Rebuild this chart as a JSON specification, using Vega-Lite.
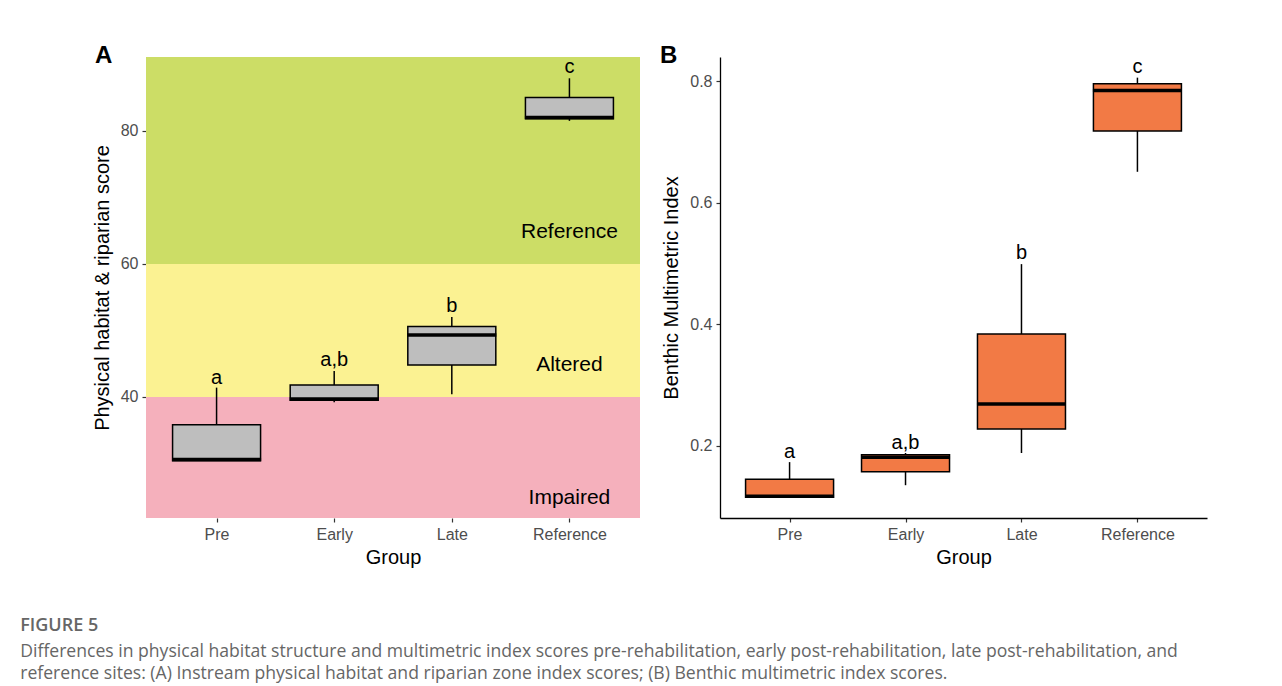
{
  "$schema": "https://vega.github.io/schema/vega-lite/v6.json",
  "background": "white",
  "padding": {"left": 20, "top": 43, "right": 5, "bottom": 5},
  "spacing": 20,
  "datasets": {
    "zones": [
      {"zone": "Impaired", "lo": 21.8, "hi": 40, "labelY": 24.8},
      {"zone": "Altered", "lo": 40, "hi": 60, "labelY": 44.8},
      {"zone": "Reference", "lo": 60, "hi": 91.1, "labelY": 64.8}
    ],
    "boxA": [
      {"group": "Pre", "lower": 30.4, "q1": 30.4, "median": 30.6, "q3": 35.8, "upper": 41.4, "letter": "a", "letterY": 42.9},
      {"group": "Early", "lower": 39.2, "q1": 39.5, "median": 39.7, "q3": 41.8, "upper": 43.9, "letter": "a,b", "letterY": 45.6},
      {"group": "Late", "lower": 40.4, "q1": 44.8, "median": 49.3, "q3": 50.6, "upper": 52.0, "letter": "b", "letterY": 53.6},
      {"group": "Reference", "lower": 81.5, "q1": 81.8, "median": 82.0, "q3": 85.0, "upper": 87.9, "letter": "c", "letterY": 89.6}
    ],
    "boxB": [
      {"group": "Pre", "lower": 0.115, "q1": 0.115, "median": 0.117, "q3": 0.145, "upper": 0.173, "letter": "a", "letterY": 0.19},
      {"group": "Early", "lower": 0.135, "q1": 0.157, "median": 0.181, "q3": 0.185, "upper": 0.188, "letter": "a,b", "letterY": 0.205},
      {"group": "Late", "lower": 0.188, "q1": 0.2275, "median": 0.2685, "q3": 0.384, "upper": 0.499, "letter": "b", "letterY": 0.517},
      {"group": "Reference", "lower": 0.651, "q1": 0.718, "median": 0.785, "q3": 0.796, "upper": 0.806, "letter": "c", "letterY": 0.823}
    ]
  },
  "title": {
    "text": "FIGURE 5",
    "subtitle": [
      "Differences in physical habitat structure and multimetric index scores pre-rehabilitation, early post-rehabilitation, late post-rehabilitation, and",
      "reference sites: (A) Instream physical habitat and riparian zone index scores; (B) Benthic multimetric index scores."
    ],
    "orient": "bottom",
    "anchor": "start",
    "frame": "bounds",
    "dx": -72,
    "offset": 50,
    "font": "Open Sans",
    "fontSize": 18,
    "fontWeight": 600,
    "color": "#666666",
    "subtitleFont": "Open Sans",
    "subtitleFontSize": 17.6,
    "subtitleColor": "#666666",
    "subtitlePadding": 8,
    "subtitleLineHeight": 22
  },
  "hconcat": [
    {
      "width": 494,
      "height": 461,
      "title": {"text": "A", "anchor": "start", "frame": "group", "dx": -51, "fontSize": 24, "fontWeight": "bold", "baseline": "middle", "offset": -23, "color": "black", "font": "Liberation Sans"},
      "layer": [
        {
          "data": {"name": "zones"},
          "mark": {"type": "rect"},
          "encoding": {
            "y": {"field": "lo", "type": "quantitative", "scale": {"domain": [21.8, 91.1], "nice": false, "zero": false},
              "title": "Physical habitat & riparian score",
              "axis": {"values": [40, 60, 80], "domain": false, "grid": false, "tickColor": "#333333", "tickSize": 4, "tickWidth": 1.2, "labelColor": "#4D4D4D", "labelFontSize": 16, "labelPadding": 4, "titleFontSize": 20, "titleFontWeight": "normal", "titleColor": "black", "titlePadding": 8}},
            "y2": {"field": "hi"},
            "color": {"field": "zone", "type": "nominal", "scale": {"domain": ["Impaired", "Altered", "Reference"], "range": ["#F5B0BC", "#FBF292", "#CCDD66"]}, "legend": null}
          }
        },
        {
          "data": {"name": "boxA"},
          "mark": {"type": "rule", "color": "black", "strokeWidth": 1.5},
          "encoding": {
            "x": {"field": "group", "type": "nominal", "title": "Group",
              "scale": {"type": "point", "padding": 0.6, "domain": ["Pre", "Early", "Late", "Reference"]},
              "axis": {"domain": false, "labelAngle": 0, "tickColor": "#333333", "tickSize": 4, "tickWidth": 1.2, "labelColor": "#4D4D4D", "labelFontSize": 16, "labelPadding": 4, "titleFontSize": 20, "titleFontWeight": "normal", "titleColor": "black", "titlePadding": 5}},
            "y": {"field": "lower", "type": "quantitative", "title": "Physical habitat & riparian score"},
            "y2": {"field": "upper"}
          }
        },
        {
          "data": {"name": "boxA"},
          "mark": {"type": "bar", "width": 88, "fill": "#BEBEBE", "stroke": "black", "strokeWidth": 1.5},
          "encoding": {
            "x": {"field": "group", "type": "nominal", "title": "Group"},
            "y": {"field": "q1", "type": "quantitative", "title": "Physical habitat & riparian score"},
            "y2": {"field": "q3"}
          }
        },
        {
          "data": {"name": "boxA"},
          "mark": {"type": "tick", "color": "black", "thickness": 3.5, "size": 89, "opacity": 1},
          "encoding": {
            "x": {"field": "group", "type": "nominal", "title": "Group"},
            "y": {"field": "median", "type": "quantitative", "title": "Physical habitat & riparian score"}
          }
        },
        {
          "data": {"name": "boxA"},
          "mark": {"type": "text", "fontSize": 20, "baseline": "middle", "color": "black", "font": "Liberation Sans"},
          "encoding": {
            "x": {"field": "group", "type": "nominal", "title": "Group"},
            "y": {"field": "letterY", "type": "quantitative", "title": "Physical habitat & riparian score"},
            "text": {"field": "letter"}
          }
        },
        {
          "data": {"name": "zones"},
          "mark": {"type": "text", "fontSize": 21, "baseline": "middle", "color": "black", "font": "Liberation Sans"},
          "encoding": {
            "x": {"datum": "Reference", "type": "nominal", "title": "Group"},
            "y": {"field": "labelY", "type": "quantitative", "title": "Physical habitat & riparian score"},
            "text": {"field": "zone"}
          }
        }
      ]
    },
    {
      "width": 487,
      "height": 461,
      "title": {"text": "B", "anchor": "start", "frame": "group", "dx": -60, "fontSize": 24, "fontWeight": "bold", "baseline": "middle", "offset": -23, "color": "black", "font": "Liberation Sans"},
      "data": {"name": "boxB"},
      "layer": [
        {
          "mark": {"type": "rule", "color": "black", "strokeWidth": 1.5},
          "encoding": {
            "x": {"field": "group", "type": "nominal", "title": "Group",
              "scale": {"type": "point", "padding": 0.6, "domain": ["Pre", "Early", "Late", "Reference"]},
              "axis": {"domain": true, "domainColor": "black", "domainWidth": 1.3, "labelAngle": 0, "tickColor": "#333333", "tickSize": 4, "tickWidth": 1.2, "labelColor": "#4D4D4D", "labelFontSize": 16, "labelPadding": 4, "titleFontSize": 20, "titleFontWeight": "normal", "titleColor": "black", "titlePadding": 5}},
            "y": {"field": "lower", "type": "quantitative", "title": "Benthic Multimetric Index",
              "scale": {"domain": [0.081, 0.84], "nice": false, "zero": false},
              "axis": {"values": [0.2, 0.4, 0.6, 0.8], "format": ".1f", "domain": true, "domainColor": "black", "domainWidth": 1.3, "grid": false, "tickColor": "#333333", "tickSize": 4, "tickWidth": 1.2, "labelColor": "#4D4D4D", "labelFontSize": 16, "labelPadding": 4, "titleFontSize": 20, "titleFontWeight": "normal", "titleColor": "black", "titlePadding": 8}},
            "y2": {"field": "upper"}
          }
        },
        {
          "mark": {"type": "bar", "width": 88, "fill": "#F27A45", "stroke": "black", "strokeWidth": 1.5},
          "encoding": {
            "x": {"field": "group", "type": "nominal", "title": "Group"},
            "y": {"field": "q1", "type": "quantitative", "title": "Benthic Multimetric Index"},
            "y2": {"field": "q3"}
          }
        },
        {
          "mark": {"type": "tick", "color": "black", "thickness": 3.5, "size": 89, "opacity": 1},
          "encoding": {
            "x": {"field": "group", "type": "nominal", "title": "Group"},
            "y": {"field": "median", "type": "quantitative", "title": "Benthic Multimetric Index"}
          }
        },
        {
          "mark": {"type": "text", "fontSize": 20, "baseline": "middle", "color": "black", "font": "Liberation Sans"},
          "encoding": {
            "x": {"field": "group", "type": "nominal", "title": "Group"},
            "y": {"field": "letterY", "type": "quantitative", "title": "Benthic Multimetric Index"},
            "text": {"field": "letter"}
          }
        }
      ]
    }
  ],
  "config": {
    "view": {"stroke": null},
    "font": "Liberation Sans",
    "axis": {"labelFont": "Liberation Sans", "titleFont": "Liberation Sans"}
  }
}
